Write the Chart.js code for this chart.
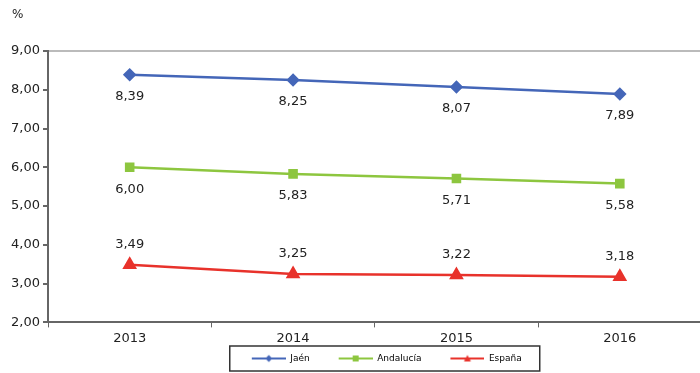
<!DOCTYPE html>
<html>
<head>
<meta charset="utf-8">
<script src="https://cdn.jsdelivr.net/npm/chart.js@4/dist/chart.umd.min.js"></script>
<style>
  html, body { margin: 0; padding: 0; background: #fff; overflow: hidden; }
  #wrap { width: 700px; height: 373px; overflow: hidden; }
</style>
</head>
<body>
<div id="wrap"><canvas id="c" width="710" height="373"></canvas></div>
<script>
// datos
const years = ["2013", "2014", "2015", "2016"];
const jaen = [8.39, 8.25, 8.07, 7.89];
const andalucia = [6.00, 5.83, 5.71, 5.58];
const espana = [3.49, 3.25, 3.22, 3.18];

const BLUE = "#4466b8", GREEN = "#8dc63f", RED = "#e8322b";
const FONT = "'DejaVu Sans', Verdana, sans-serif";

const fmt = v => v.toFixed(2).replace(".", ",");

// icono de leyenda: linea con marcador (hueco transparente a la izquierda)
function legendIcon(color, style) {
  const c = document.createElement("canvas");
  c.width = 58; c.height = 10;
  const g = c.getContext("2d");
  g.strokeStyle = color; g.lineWidth = 2;
  g.beginPath(); g.moveTo(24, 5); g.lineTo(58, 5); g.stroke();
  g.fillStyle = color;
  g.beginPath();
  const m = 41;
  if (style === "rectRot") { g.moveTo(m, 1.5); g.lineTo(m + 3.5, 5); g.lineTo(m, 8.5); g.lineTo(m - 3.5, 5); }
  else if (style === "rect") { g.rect(m - 3, 2, 6, 6); }
  else { g.moveTo(m, 1.5); g.lineTo(m + 3.5, 8); g.lineTo(m - 3.5, 8); }
  g.closePath(); g.fill();
  return c;
}

const labelsPlugin = {
  id: "valueLabels",
  afterDatasetsDraw(chart) {
    const ctx = chart.ctx;
    ctx.save();
    ctx.font = "13px " + FONT;
    ctx.fillStyle = "#222";
    ctx.textAlign = "center";
    ctx.textBaseline = "middle";
    chart.data.datasets.forEach((ds, i) => {
      const meta = chart.getDatasetMeta(i);
      meta.data.forEach((pt, j) => {
        const dy = ds.labelPos === "above" ? -20 : 22;
        ctx.fillText(fmt(ds.data[j]), pt.x, pt.y + dy);
      });
    });
    // unidad del eje
    ctx.textAlign = "left";
    ctx.font = "12px " + FONT;
    ctx.fillText("%", 12, 15);
    ctx.restore();
  }
};

const frameLegend = {
  id: "frameLegend",
  afterDraw(chart) {
    const boxes = chart.legend.legendHitBoxes;
    if (!boxes || !boxes.length) return;
    let l = Infinity, r = -Infinity, t = Infinity, b = -Infinity;
    boxes.forEach(h => {
      l = Math.min(l, h.left); r = Math.max(r, h.left + h.width);
      t = Math.min(t, h.top); b = Math.max(b, h.top + h.height);
    });
    const ctx = chart.ctx;
    ctx.save();
    ctx.strokeStyle = "#333";
    ctx.lineWidth = 1.5;
    ctx.strokeRect(l + 2, t - 8, r - l + 16, b - t + 16);
    ctx.restore();
  }
};

new Chart(document.getElementById("c"), {
  type: "line",
  data: {
    labels: years,
    datasets: [
      { label: "Jaén", data: jaen, borderColor: BLUE, backgroundColor: BLUE, borderWidth: 2.5,
        pointStyle: "rectRot", pointRadius: 5, labelPos: "below", icon: legendIcon(BLUE, "rectRot") },
      { label: "Andalucía", data: andalucia, borderColor: GREEN, backgroundColor: GREEN, borderWidth: 2.5,
        pointStyle: "rect", pointRadius: 5, labelPos: "below", icon: legendIcon(GREEN, "rect") },
      { label: "España", data: espana, borderColor: RED, backgroundColor: RED, borderWidth: 2.5,
        pointStyle: "triangle", pointRadius: 6, labelPos: "above", icon: legendIcon(RED, "triangle") }
    ]
  },
  options: {
    responsive: false,
    animation: false,
    layout: { padding: { top: 51, left: 4, right: 0, bottom: 0 } },
    scales: {
      x: {
        offset: true,
        grid: { drawOnChartArea: false, offset: true, tickLength: 5, tickColor: "#666" },
        border: { color: "#666", width: 2 },
        ticks: { color: "#222", font: { family: FONT, size: 13 }, padding: 3 }
      },
      y: {
        min: 2, max: 9,
        grid: {
          color: ctx => ctx.tick && ctx.tick.value === 9 ? "#bbb" : "rgba(0,0,0,0)",
          lineWidth: 2, tickLength: 5, tickColor: "#666"
        },
        border: { color: "#666", width: 2 },
        ticks: { stepSize: 1, color: "#222", font: { family: FONT, size: 13 }, padding: 3,
          callback: v => fmt(v) },
        afterFit: s => { s.width = 44; }
      }
    },
    plugins: {
      legend: {
        position: "bottom",
        align: "center",
        fullSize: false,
        labels: {
          usePointStyle: true, pointStyleWidth: 58, boxHeight: 10,
          color: "#222", font: { family: FONT, size: 9 }, padding: 5,
          generateLabels: chart => chart.data.datasets.map((ds, i) => ({
            text: ds.label, pointStyle: ds.icon, fillStyle: ds.borderColor,
            strokeStyle: ds.borderColor, lineWidth: 0, datasetIndex: i, hidden: false
          }))
        }
      },
      tooltip: { enabled: false }
    }
  },
  plugins: [labelsPlugin, frameLegend]
});
</script>
</body>
</html>
